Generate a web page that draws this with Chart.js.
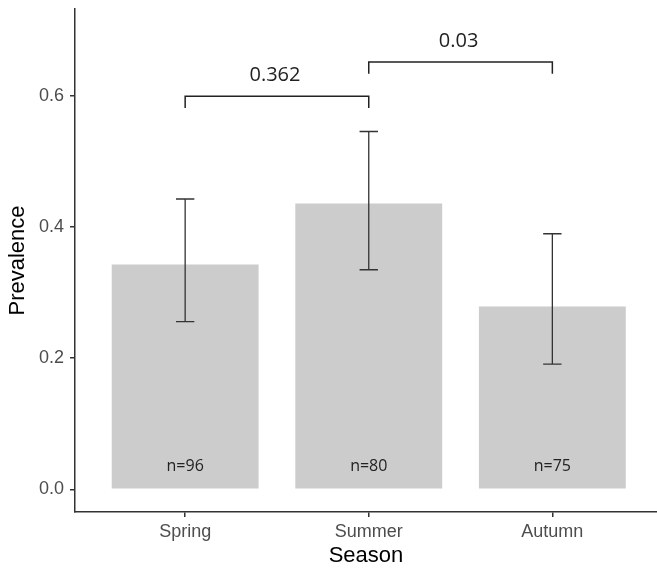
<!DOCTYPE html>
<html>
<head>
<meta charset="utf-8">
<script src="https://cdn.jsdelivr.net/npm/chart.js@4.4.1/dist/chart.umd.min.js"></script>
<style>
  html, body { margin: 0; padding: 0; background: #fff; overflow: hidden; }
</style>
</head>
<body>
<canvas id="prevChart" width="657" height="571"></canvas>
<script>
// prevalence by season, with 95% CI
var seasons = ['Spring', 'Summer', 'Autumn'];
var prevalence = [0.343, 0.436, 0.279];
var ciLower = [0.256, 0.335, 0.191];
var ciUpper = [0.443, 0.546, 0.390];
var sampleSizes = ['n=96', 'n=80', 'n=75'];
var yTicks = [0.0, 0.2, 0.4, 0.6];

// pairwise tests, drawn as brackets over the bars
var pairs = [[1, 2], [2, 3]];
var bracketHeights = [0.6, 0.652];
var pValues = ['0.362', '0.03'];

var axisFont = 'Liberation Sans, Arial, sans-serif';
var noteFont = '"Open Sans", sans-serif';

var barPoints = seasons.map(function (s, i) {
  return { x: i + 1, y: prevalence[i] };
});

// error bars, n labels and p-value brackets
var extras = {
  id: 'extras',
  afterDatasetsDraw: function (chart) {
    var ctx = chart.ctx;
    var xs = chart.scales.x;
    var ys = chart.scales.y;
    ctx.save();

    // confidence intervals
    ctx.strokeStyle = '#333';
    ctx.lineWidth = 1.3;
    for (var i = 0; i < seasons.length; i++) {
      var cx = xs.getPixelForValue(i + 1);
      var half = xs.getPixelForValue(i + 1.05) - cx;
      var top = ys.getPixelForValue(ciUpper[i]);
      var bot = ys.getPixelForValue(ciLower[i]);
      ctx.beginPath();
      ctx.moveTo(cx, top); ctx.lineTo(cx, bot);
      ctx.moveTo(cx - half, top); ctx.lineTo(cx + half, top);
      ctx.moveTo(cx - half, bot); ctx.lineTo(cx + half, bot);
      ctx.stroke();
    }

    // sample sizes near the bar base
    ctx.fillStyle = '#222';
    ctx.font = '16px ' + noteFont;
    ctx.textAlign = 'center';
    ctx.textBaseline = 'middle';
    var base = ys.getPixelForValue(0);
    for (var j = 0; j < seasons.length; j++) {
      ctx.fillText(sampleSizes[j], xs.getPixelForValue(j + 1), base - 23);
    }

    // brackets
    ctx.strokeStyle = '#222';
    ctx.lineWidth = 1.5;
    ctx.font = '20px ' + noteFont;
    ctx.textBaseline = 'middle';
    for (var k = 0; k < pairs.length; k++) {
      var x1 = xs.getPixelForValue(pairs[k][0]);
      var x2 = xs.getPixelForValue(pairs[k][1]);
      var yb = ys.getPixelForValue(bracketHeights[k]);
      var tip = ys.getPixelForValue(bracketHeights[k] - 0.018);
      ctx.beginPath();
      ctx.moveTo(x1, tip); ctx.lineTo(x1, yb); ctx.lineTo(x2, yb); ctx.lineTo(x2, tip);
      ctx.stroke();
      ctx.fillText(pValues[k], (x1 + x2) / 2 - 2, yb - 21);
    }
    ctx.restore();
  }
};

var ctx = document.getElementById('prevChart');
var prevChart = new Chart(ctx, {
  type: 'bar',
  data: {
    datasets: [{
      data: barPoints,
      backgroundColor: '#cccccc',
      borderWidth: 0,
      barPercentage: 0.8,
      categoryPercentage: 1.0
    }]
  },
  options: {
    responsive: false,
    animation: false,
    devicePixelRatio: 1,
    layout: { padding: { top: 9, right: 0, left: 0, bottom: 0 } },
    plugins: {
      legend: { display: false },
      tooltip: { enabled: false }
    },
    scales: {
      x: {
        type: 'linear',
        min: 0.4,
        max: 3.57,
        offset: false,
        afterBuildTicks: function (s) {
          s.ticks = seasons.map(function (n, i) { return { value: i + 1 }; });
        },
        afterFit: function (s) { s.height = 59; s.paddingLeft = 0; s.paddingRight = 0; },
        grid: { offset: false, drawOnChartArea: false, drawTicks: true, tickLength: 5, color: '#333', lineWidth: 1.5 },
        border: { display: true, color: '#333', width: 1.5 },
        ticks: {
          callback: function (v) { return seasons[v - 1]; },
          font: { family: axisFont, size: 18 },
          color: '#4d4d4d',
          padding: 4,
          maxRotation: 0,
          autoSkip: false
        },
        title: {
          display: true,
          text: 'Season',
          font: { family: axisFont, size: 22 },
          color: '#000',
          padding: { top: 0, bottom: 2 }
        }
      },
      y: {
        min: -0.0347,
        max: 0.733,
        afterBuildTicks: function (s) {
          s.ticks = yTicks.map(function (v) { return { value: v }; });
        },
        afterFit: function (s) { s.width = 75; s.paddingTop = 0; s.paddingBottom = 0; },
        grid: { drawOnChartArea: false, drawTicks: true, tickLength: 5, color: '#333', lineWidth: 1.5 },
        border: { display: true, color: '#333', width: 1.5 },
        ticks: {
          callback: function (v) { return v.toFixed(1); },
          font: { family: axisFont, size: 18 },
          color: '#4d4d4d',
          padding: 6
        },
        title: {
          display: true,
          text: 'Prevalence',
          font: { family: axisFont, size: 22 },
          color: '#000',
          padding: { top: 5, bottom: 0 }
        }
      }
    }
  },
  plugins: [extras]
});
</script>
</body>
</html>
